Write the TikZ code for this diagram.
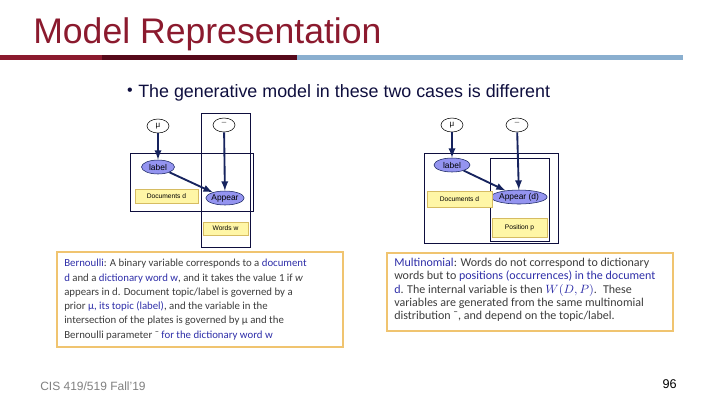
\documentclass[tikz,border=0pt]{standalone}
\usepackage{fontspec}
\setmainfont{Liberation Sans}
\newfontfamily\bodyfont{Carlito}
\usepackage{tikz}
\usetikzlibrary{shapes.geometric}
\usetikzlibrary{%
  calc,%
  arrows%
}
\definecolor{titlered}{HTML}{8B1A2E}
\definecolor{darkred}{HTML}{56091A}
\definecolor{barblue}{HTML}{8AAFCF}
\definecolor{navy}{HTML}{0E0E3E}
\definecolor{arrnavy}{HTML}{16235E}
\definecolor{nodeblue}{HTML}{9494F0}
\definecolor{noteyellow}{HTML}{FFF6A6}
\definecolor{notegold}{HTML}{D6BC62}
\definecolor{boxorange}{HTML}{F0C470}
\definecolor{txtgray}{HTML}{3C3C3C}
\definecolor{txtblue}{HTML}{2E2EA8}
\tikzset{
  param/.style={draw=black,fill=white,ellipse,inner sep=0pt,
    minimum width=16.5pt,minimum height=10.5pt,font=\fontsize{6}{6}\selectfont},
  var/.style={draw=arrnavy,fill=nodeblue,ellipse,inner sep=0pt,
    minimum height=10.5pt,font=\fontsize{6.3}{6.3}\selectfont},
  platelabel/.style={draw=notegold,fill=noteyellow,inner sep=0pt,
    font=\fontsize{5}{5}\selectfont},
  plate/.style={draw=navy,line width=0.7pt},
  dep/.style={->,>=latex,draw=arrnavy,line width=1.4pt},
  note/.style={draw=boxorange,line width=1.1pt},
  notetext/.style={anchor=north west,inner sep=0pt,align=left,text=txtgray,
    font=\bodyfont\fontsize{8.1}{10.7}\selectfont}
}
\begin{document}
\begin{tikzpicture}[x=0.75pt,y=-0.75pt]
\useasboundingbox (0,0) rectangle (720,405);

% heading
\node[anchor=base west,inner sep=0pt,text=titlered,font=\fontsize{26.7}{27}\selectfont] (title) at (33,43) {Model Representation};
\fill[titlered] (0,55) rectangle (102,60);
\fill[darkred] (102,55) rectangle (297,60);
\fill[barblue] (297,55) rectangle (683,60);

\node[inner sep=0pt,text=navy,font=\fontsize{12}{12}\selectfont] (bullet) at (130,92) {•};
\node[anchor=base west,inner sep=0pt,text=navy,font=\fontsize{13.4}{13.4}\selectfont] (intro) at (138,97) {The generative model in these two cases is different};

% Bernoulli model
\draw[plate] (130,153) rectangle (253,211);
\draw[plate] (201,113) rectangle (250,247);
\node[param] (muA) at (158,126) {μ};
\node[param] (betaA) at (224,125) {¯};
\node[var,minimum width=24.75pt] (labelA) at (158,167) {label};
\node[var,minimum width=27pt] (appearA) at (225,198) {Appear};
\node[platelabel,minimum width=47pt,minimum height=10.5pt] (docA) at (166.5,196) {Documents d};
\node[platelabel,minimum width=34pt,minimum height=10pt] (wordsA) at (225.5,228.5) {Words w};
\draw[dep] (muA) -- (labelA);
\draw[dep] (labelA) -- (appearA);
\draw[dep] (betaA) -- (appearA);

% multinomial model
\draw[plate] (424,153) rectangle (558,243);
\draw[plate] (490,158) rectangle (549,241);
\node[param] (muB) at (452,125) {μ};
\node[param] (betaB) at (517,125) {¯};
\node[var,minimum width=27pt] (labelB) at (452,165) {label};
\node[var,minimum width=33.75pt] (appearB) at (519,197) {Appear (d)};
\node[platelabel,minimum width=49pt,minimum height=12pt] (docB) at (459.5,199) {Documents d};
\node[platelabel,minimum width=41pt,minimum height=14pt] (posB) at (519.5,227.5) {Position p};
\draw[dep] (muB) -- (labelB);
\draw[dep] (labelB) -- (appearB);
\draw[dep] (betaB) -- (appearB);

% explanations
\draw[note] (57,252) rectangle (343,347);
\node[notetext] (bern) at (64,259) {%
\textcolor{txtblue}{Bernoulli}: A binary variable corresponds to a \textcolor{txtblue}{document}\\
\textcolor{txtblue}{d} and a \textcolor{txtblue}{dictionary word w}, and it takes the value 1 if \textit{w}\\
appears in d. Document topic/label is governed by a\\
prior \textcolor{txtblue}{μ, its topic (label)}, and the variable in the\\
intersection of the plates is governed by μ and the\\
Bernoulli parameter ¯ \textcolor{txtblue}{for the dictionary word w}};
\draw[note] (387,253) rectangle (673,331);
\node[notetext,font=\bodyfont\fontsize{9}{10.1}\selectfont] (multi) at (394,257.5) {%
\textcolor{txtblue}{Multinomial}: Words do not correspond to dictionary\\
words but to \textcolor{txtblue}{positions (occurrences) in the document}\\
\textcolor{txtblue}{d}. The internal variable is then \textcolor{txtblue}{$W(D,P)$}.\enspace These\\
variables are generated from the same multinomial\\
distribution ¯, and depend on the topic/label.};

% footer
\node[anchor=base west,inner sep=0pt,text=gray,font=\fontsize{9}{9}\selectfont] (course) at (40,390) {CIS 419/519 Fall'19};
\node[anchor=base east,inner sep=0pt,font=\fontsize{9.5}{9.5}\selectfont] (page) at (677,388) {96};
\end{tikzpicture}
\end{document}
